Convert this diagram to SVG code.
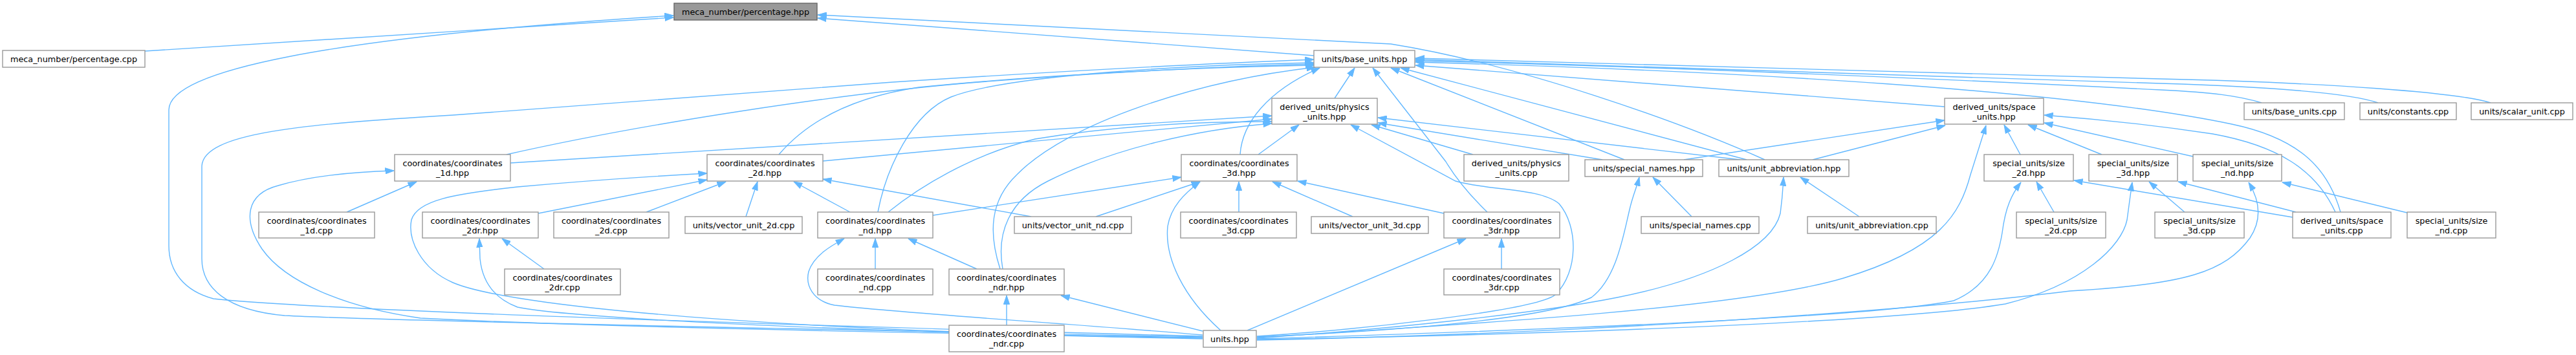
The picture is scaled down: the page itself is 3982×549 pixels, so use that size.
<svg xmlns="http://www.w3.org/2000/svg" width="3982" height="549" viewBox="0 0 3982 549">
<style>
.n rect{fill:#ffffff;stroke:#999999;stroke-width:1.4}
.n.hl rect{fill:#999999;stroke:#666666}
.n text{font-family:"DejaVu Sans","Liberation Sans",sans-serif;font-size:12.8px;fill:#000000;text-anchor:middle}
#edges path{fill:none;stroke:#63b8ff;stroke-width:1.4;marker-end:url(#ah)}
</style>
<defs>
<marker id="ah" markerUnits="userSpaceOnUse" viewBox="0 0 14 10" markerWidth="14" markerHeight="10" refX="13.5" refY="5" orient="auto">
<path d="M0,0.4 L13.5,5 L0,9.6 z" fill="#63b8ff" stroke="#63b8ff" stroke-width="1"/>
</marker>
</defs>
<rect x="0" y="0" width="3982" height="549" fill="#ffffff"/>
<g id="edges">
<path d="M224,79 L1041,27"/>
<path d="M1859,520 C1300,505 520,482 330,462 C285,450 261,420 261,380 L261,170 C261,110 500,58 1041,24"/>
<path d="M2031,86 L1264,28"/>
<path d="M2728,247 C2600,190 2350,100 2150,68 L1264,23"/>
<path d="M2063,152 L2094,105"/>
<path d="M3006,165 L2188,101"/>
<path d="M3496,159 C3460,148 3420,143 3340,139 C3000,122 2600,104 2188,94"/>
<path d="M3676,159 C3630,143 3500,134 3340,129 C3000,116 2600,102 2188,92"/>
<path d="M3850,159 C3800,143 3600,128 3340,122 C3000,110 2600,98 2188,90"/>
<path d="M3618,328 C3600,265 3560,215 3450,192 C3200,140 2700,110 2188,96"/>
<path d="M3610,328 C3580,262 3520,225 3420,207 C3320,192 3240,184 3160,178"/>
<path d="M783,239 C1000,190 1300,145 1500,128 C1700,112 1900,102 2031,99"/>
<path d="M1859,521 C1300,510 620,497 440,488 C350,480 312,445 312,400 L312,258 C312,205 470,192 700,178 L1380,127 C1700,106 1900,97 2031,92"/>
<path d="M1859,522 C1400,515 900,505 650,492 C530,475 440,435 405,385 C375,340 380,300 430,287 C480,272 540,266 609,264"/>
<path d="M536,328 L644,281"/>
<path d="M789,252 L1966,179"/>
<path d="M1204,239 C1250,185 1320,150 1420,135 C1650,112 1900,103 2031,101"/>
<path d="M1272,249 L1966,184"/>
<path d="M1357,328 C1370,260 1410,175 1470,150 C1560,115 1850,100 2031,97"/>
<path d="M1373,328 C1420,290 1500,240 1600,215 C1750,190 1900,188 1966,188"/>
<path d="M1546,416 C1528,360 1530,310 1572,270 C1650,190 1850,125 2033,104"/>
<path d="M1550,416 C1540,360 1560,310 1620,280 C1720,230 1850,200 1966,191"/>
<path d="M1917,239 C1920,190 1960,140 2040,105"/>
<path d="M1945,239 L2008,193"/>
<path d="M2277,239 L2120,193"/>
<path d="M2477,247 L2130,190"/>
<path d="M2690,247 L2130,182"/>
<path d="M2511,247 L2150,105"/>
<path d="M2700,247 L2165,105"/>
<path d="M2802,247 L3007,194"/>
<path d="M2603,247 L3006,186"/>
<path d="M3123,239 L3098,193"/>
<path d="M3249,239 L3135,193"/>
<path d="M3390,242 L3160,190"/>
<path d="M1943,522 C2300,500 2700,475 2850,430 C3000,385 3030,330 3046,270 L3070,194"/>
<path d="M1943,524 C2400,510 2900,490 3020,465 C3080,440 3090,390 3095,360 C3100,320 3110,300 3124,282"/>
<path d="M1943,525 C2500,515 2950,495 3100,470 C3220,440 3280,380 3288,340 C3292,310 3294,295 3296,282"/>
<path d="M1943,526 C2500,515 3000,475 3200,450 C3380,440 3440,420 3478,368 C3500,335 3490,305 3476,282"/>
<path d="M1943,523 C2200,505 2400,480 2500,460 C2650,430 2740,380 2752,330 C2756,300 2756,290 2757,274"/>
<path d="M1943,521 C2200,510 2400,490 2460,460 C2500,430 2510,360 2520,320 C2525,300 2530,290 2534,274"/>
<path d="M1943,520 C2100,510 2380,480 2405,455 C2440,420 2440,350 2410,315 C2380,290 2300,295 2250,280 L2088,193"/>
<path d="M2299,328 C2270,300 2250,275 2235,250 L2122,105"/>
<path d="M1928,511 L2266,369"/>
<path d="M2321,416 L2321,369"/>
<path d="M2615,335 L2555,274"/>
<path d="M2874,335 L2783,274"/>
<path d="M3175,328 L3148,281"/>
<path d="M3377,328 L3322,281"/>
<path d="M3544,336 L3206,279"/>
<path d="M3549,328 L3367,281"/>
<path d="M3721,329 L3528,282"/>
<path d="M832,330 L1093,278"/>
<path d="M1859,523 C1300,515 800,480 700,437 C650,415 630,370 636,340 C645,310 700,300 800,289 C900,280 1000,273 1093,268"/>
<path d="M1859,524 C1400,515 900,495 800,475 C760,460 745,430 742,400 L741,369"/>
<path d="M841,416 L776,369"/>
<path d="M999,328 L1122,281"/>
<path d="M1153,335 L1171,281"/>
<path d="M1314,328 L1227,281"/>
<path d="M1594,335 L1272,277"/>
<path d="M1353,416 L1353,369"/>
<path d="M1859,518 C1650,500 1400,485 1290,472 C1255,465 1245,440 1250,420 C1258,395 1285,380 1305,369"/>
<path d="M1510,416 L1404,369"/>
<path d="M1556,503 L1556,457"/>
<path d="M1859,512 L1640,457"/>
<path d="M1442,333 L1826,274"/>
<path d="M1694,335 L1855,281"/>
<path d="M1915,328 L1915,281"/>
<path d="M2091,335 L1967,281"/>
<path d="M2232,330 L2006,280"/>
<path d="M1887,511 C1830,460 1800,400 1805,350 C1810,320 1830,300 1855,281"/>
</g>
<g id="n_pct_hpp" class="n hl"><rect x="1042" y="5" width="221" height="26"/><text x="1152.5" y="22.5">meca_number/percentage.hpp</text></g>
<g id="n_pct_cpp" class="n"><rect x="4" y="78" width="220" height="26"/><text x="114" y="95.5">meca_number/percentage.cpp</text></g>
<g id="n_base_hpp" class="n"><rect x="2031" y="78" width="156" height="26"/><text x="2109" y="95.5">units/base_units.hpp</text></g>
<g id="n_phys_hpp" class="n"><rect x="1966" y="152" width="163" height="40"/><text x="2047.5" y="169.5">derived_units/physics</text><text x="2047.5" y="184.5">_units.hpp</text></g>
<g id="n_space_hpp" class="n"><rect x="3006" y="152" width="153" height="40"/><text x="3082.5" y="169.5">derived_units/space</text><text x="3082.5" y="184.5">_units.hpp</text></g>
<g id="n_base_cpp" class="n"><rect x="3469" y="159" width="155" height="26"/><text x="3546.5" y="176.5">units/base_units.cpp</text></g>
<g id="n_const_cpp" class="n"><rect x="3648" y="159" width="149" height="26"/><text x="3722.5" y="176.5">units/constants.cpp</text></g>
<g id="n_scalar_cpp" class="n"><rect x="3820" y="159" width="157" height="26"/><text x="3898.5" y="176.5">units/scalar_unit.cpp</text></g>
<g id="n_c1_hpp" class="n"><rect x="610" y="239" width="179" height="41"/><text x="699.5" y="256.5">coordinates/coordinates</text><text x="699.5" y="271.5">_1d.hpp</text></g>
<g id="n_c2_hpp" class="n"><rect x="1093" y="239" width="179" height="41"/><text x="1182.5" y="256.5">coordinates/coordinates</text><text x="1182.5" y="271.5">_2d.hpp</text></g>
<g id="n_c3_hpp" class="n"><rect x="1826" y="239" width="179" height="41"/><text x="1915.5" y="256.5">coordinates/coordinates</text><text x="1915.5" y="271.5">_3d.hpp</text></g>
<g id="n_phys_cpp" class="n"><rect x="2263" y="239" width="162" height="41"/><text x="2344" y="256.5">derived_units/physics</text><text x="2344" y="271.5">_units.cpp</text></g>
<g id="n_sn_hpp" class="n"><rect x="2450" y="247" width="182" height="26"/><text x="2541" y="264.5">units/special_names.hpp</text></g>
<g id="n_ua_hpp" class="n"><rect x="2657" y="247" width="201" height="26"/><text x="2757.5" y="264.5">units/unit_abbreviation.hpp</text></g>
<g id="n_s2_hpp" class="n"><rect x="3067" y="239" width="138" height="41"/><text x="3136" y="256.5">special_units/size</text><text x="3136" y="271.5">_2d.hpp</text></g>
<g id="n_s3_hpp" class="n"><rect x="3229" y="239" width="137" height="41"/><text x="3297.5" y="256.5">special_units/size</text><text x="3297.5" y="271.5">_3d.hpp</text></g>
<g id="n_snd_hpp" class="n"><rect x="3390" y="239" width="137" height="41"/><text x="3458.5" y="256.5">special_units/size</text><text x="3458.5" y="271.5">_nd.hpp</text></g>
<g id="n_c1_cpp" class="n"><rect x="400" y="328" width="179" height="40"/><text x="489.5" y="345.5">coordinates/coordinates</text><text x="489.5" y="360.5">_1d.cpp</text></g>
<g id="n_c2r_hpp" class="n"><rect x="653" y="328" width="179" height="40"/><text x="742.5" y="345.5">coordinates/coordinates</text><text x="742.5" y="360.5">_2dr.hpp</text></g>
<g id="n_c2_cpp" class="n"><rect x="856" y="328" width="178" height="40"/><text x="945" y="345.5">coordinates/coordinates</text><text x="945" y="360.5">_2d.cpp</text></g>
<g id="n_v2_cpp" class="n"><rect x="1059" y="335" width="181" height="26"/><text x="1149.5" y="352.5">units/vector_unit_2d.cpp</text></g>
<g id="n_cn_hpp" class="n"><rect x="1264" y="328" width="178" height="40"/><text x="1353" y="345.5">coordinates/coordinates</text><text x="1353" y="360.5">_nd.hpp</text></g>
<g id="n_vn_cpp" class="n"><rect x="1568" y="335" width="181" height="26"/><text x="1658.5" y="352.5">units/vector_unit_nd.cpp</text></g>
<g id="n_c3_cpp" class="n"><rect x="1825" y="328" width="179" height="40"/><text x="1914.5" y="345.5">coordinates/coordinates</text><text x="1914.5" y="360.5">_3d.cpp</text></g>
<g id="n_v3_cpp" class="n"><rect x="2027" y="335" width="181" height="26"/><text x="2117.5" y="352.5">units/vector_unit_3d.cpp</text></g>
<g id="n_c3r_hpp" class="n"><rect x="2232" y="328" width="179" height="40"/><text x="2321.5" y="345.5">coordinates/coordinates</text><text x="2321.5" y="360.5">_3dr.hpp</text></g>
<g id="n_sn_cpp" class="n"><rect x="2537" y="335" width="182" height="26"/><text x="2628" y="352.5">units/special_names.cpp</text></g>
<g id="n_ua_cpp" class="n"><rect x="2794" y="335" width="199" height="26"/><text x="2893.5" y="352.5">units/unit_abbreviation.cpp</text></g>
<g id="n_s2_cpp" class="n"><rect x="3117" y="328" width="138" height="40"/><text x="3186" y="345.5">special_units/size</text><text x="3186" y="360.5">_2d.cpp</text></g>
<g id="n_s3_cpp" class="n"><rect x="3331" y="328" width="138" height="40"/><text x="3400" y="345.5">special_units/size</text><text x="3400" y="360.5">_3d.cpp</text></g>
<g id="n_space_cpp" class="n"><rect x="3544" y="328" width="152" height="40"/><text x="3620" y="345.5">derived_units/space</text><text x="3620" y="360.5">_units.cpp</text></g>
<g id="n_snd_cpp" class="n"><rect x="3721" y="328" width="137" height="40"/><text x="3789.5" y="345.5">special_units/size</text><text x="3789.5" y="360.5">_nd.cpp</text></g>
<g id="n_c2r_cpp" class="n"><rect x="780" y="416" width="179" height="40"/><text x="869.5" y="433.5">coordinates/coordinates</text><text x="869.5" y="448.5">_2dr.cpp</text></g>
<g id="n_cn_cpp" class="n"><rect x="1264" y="416" width="178" height="40"/><text x="1353" y="433.5">coordinates/coordinates</text><text x="1353" y="448.5">_nd.cpp</text></g>
<g id="n_cnr_hpp" class="n"><rect x="1467" y="416" width="178" height="40"/><text x="1556" y="433.5">coordinates/coordinates</text><text x="1556" y="448.5">_ndr.hpp</text></g>
<g id="n_c3r_cpp" class="n"><rect x="2232" y="416" width="179" height="40"/><text x="2321.5" y="433.5">coordinates/coordinates</text><text x="2321.5" y="448.5">_3dr.cpp</text></g>
<g id="n_cnr_cpp" class="n"><rect x="1467" y="503" width="178" height="41"/><text x="1556" y="520.5">coordinates/coordinates</text><text x="1556" y="535.5">_ndr.cpp</text></g>
<g id="n_units_hpp" class="n"><rect x="1860" y="511" width="82" height="26"/><text x="1901" y="528.5">units.hpp</text></g>
</svg>
